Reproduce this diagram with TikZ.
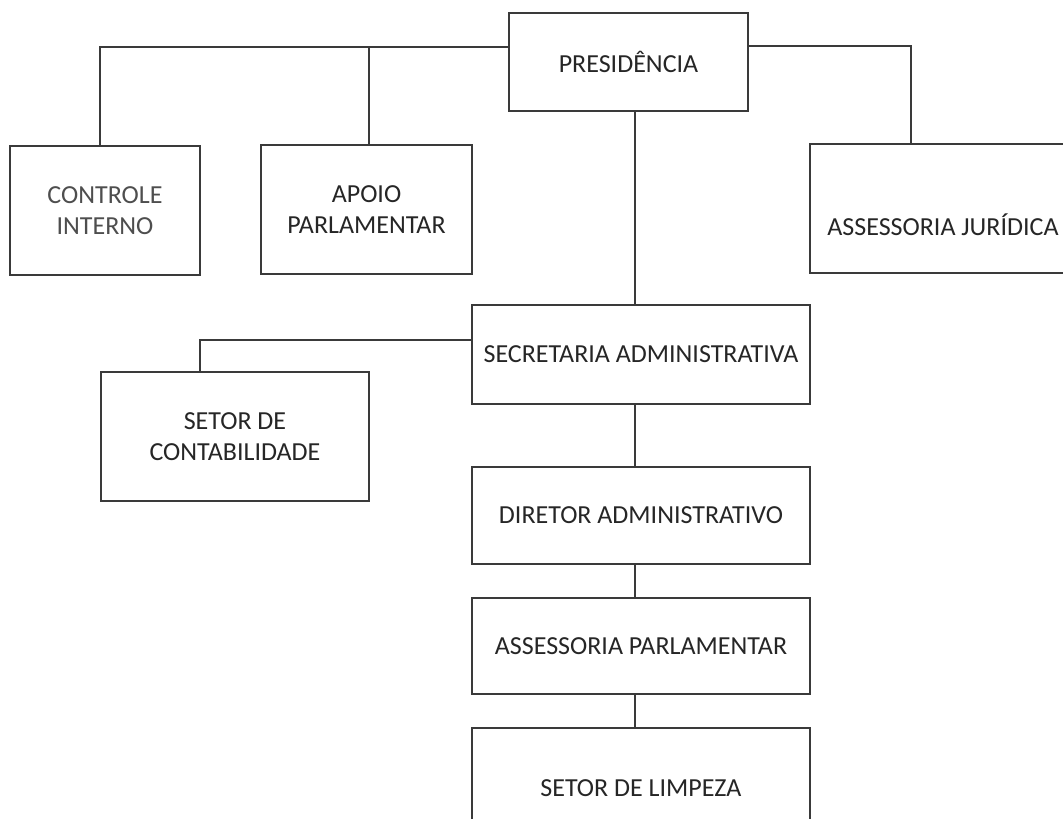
\documentclass[tikz,border=0pt]{standalone}
\usepackage{fontspec}
\setmainfont{Carlito}
\usetikzlibrary{calc}
\definecolor{ink}{HTML}{262626}
\definecolor{linec}{HTML}{3A3A3A}
\definecolor{greyink}{HTML}{4E4E4E}
\begin{document}
\begin{tikzpicture}[x=1pt,y=-1pt,
  orgbox/.style={draw=linec, line width=1.3pt, rectangle, inner sep=0pt, align=center, text=ink, font=\fontsize{26}{31}\selectfont},
  plain/.style={inner sep=0pt, align=center, text=ink, font=\fontsize{26}{31}\selectfont},
  conn/.style={draw=linec, line width=1.3pt}]
\clip (0,0) rectangle (1063,819);
\fill[white] (0,0) rectangle (1063,819);
% boxes
\node[orgbox, minimum width=239, minimum height=98] (pres) at (628.5,62) {PRESIDÊNCIA};
\node[orgbox, minimum width=190, minimum height=129, text=greyink] (ctrl) at (105,210.5) {CONTROLE\\INTERNO};
\node[orgbox, minimum width=211, minimum height=129] (apoio) at (366.5,209.5) {APOIO\\PARLAMENTAR};
\node[orgbox, minimum width=266, minimum height=129] (jur) at (943,208.5) {};
\node[plain] (jurtxt) at (943,225) {ASSESSORIA JURÍDICA};
\node[orgbox, minimum width=338, minimum height=99] (sec) at (641,354.5) {SECRETARIA ADMINISTRATIVA};
\node[orgbox, minimum width=268, minimum height=129] (cont) at (235,436.5) {SETOR DE\\CONTABILIDADE};
\node[orgbox, minimum width=338, minimum height=97] (dir) at (641,515.5) {DIRETOR ADMINISTRATIVO};
\node[orgbox, minimum width=338, minimum height=96] (asp) at (641,646) {ASSESSORIA PARLAMENTAR};
\node[orgbox, minimum width=338, minimum height=120] (limp) at (641,788) {SETOR DE LIMPEZA};
% helper coordinates
\coordinate (tl) at (0,47);
\coordinate (tr) at (0,46);
\coordinate (cx) at (100,0);
\coordinate (ax) at (369,0);
\coordinate (jx) at (911,0);
\coordinate (chain) at (635,0);
\coordinate (sl) at (0,340);
\coordinate (kx) at (200,0);
% connectors
\draw[conn] (pres.west |- tl) -| (ctrl.north -| cx);
\draw[conn] (apoio.north -| ax) -- (tl -| ax);
\draw[conn] (pres.east |- tr) -| (jur.north -| jx);
\draw[conn] (pres.south -| chain) -- (sec.north -| chain);
\draw[conn] (sec.west |- sl) -| (cont.north -| kx);
\draw[conn] (sec.south -| chain) -- (dir.north -| chain);
\draw[conn] (dir.south -| chain) -- (asp.north -| chain);
\draw[conn] (asp.south -| chain) -- (limp.north -| chain);
\end{tikzpicture}
\end{document}
